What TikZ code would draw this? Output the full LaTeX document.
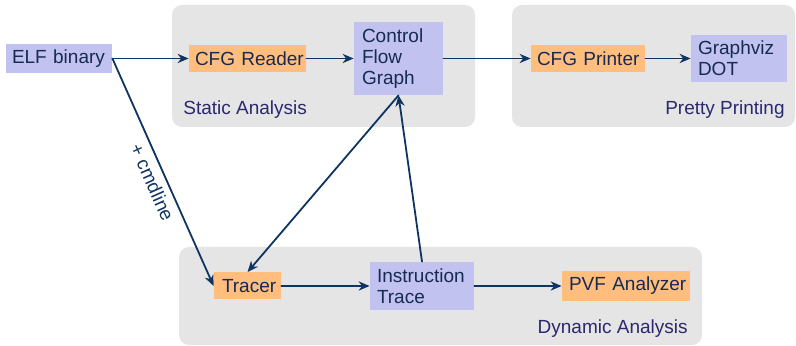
\documentclass[tikz,border=0pt]{standalone}
\usepackage{fontspec}
\setmainfont{Liberation Sans}
\usepackage{xcolor}
\usetikzlibrary{arrows.meta}
\definecolor{procorange}{RGB}{255,190,125}
\definecolor{datablue}{RGB}{194,194,240}
\definecolor{phasegray}{RGB}{229,229,229}
\definecolor{linenavy}{RGB}{16,52,98}
\definecolor{textnavy}{RGB}{22,42,82}
\definecolor{phasenavy}{RGB}{42,40,110}
\tikzset{
  box/.style={inner ysep=0pt,inner xsep=3pt,align=left,text=textnavy,font=\fontsize{9.5}{10.4}\selectfont},
  proc/.style={box,fill=procorange},
  data/.style={box,fill=datablue},
  phase/.style={fill=phasegray,rounded corners=5pt},
  phaselabel/.style={inner sep=0pt,text=phasenavy,font=\fontsize{9.5}{10.4}\selectfont},
  flow/.style={line width=0.9pt,color=linenavy,-{Stealth[length=5.5pt,width=4.6pt]}}
}
\begin{document}
\begin{tikzpicture}[line cap=round,line join=round,x=0.5pt,y=-0.5pt]
\useasboundingbox (0,0) rectangle (796,346);
% phases
\fill [phase] (172,5) rectangle (475,127);
\fill [phase] (512,5) rectangle (795,127);
\fill [phase] (179,247) rectangle (702,345);
\node [phaselabel,anchor=west] (staticlbl) at (183,110) {Static Analysis};
\node [phaselabel,anchor=east] (prettylbl) at (785,110) {Pretty Printing};
\node [phaselabel,anchor=east] (dynlbl) at (688,329) {Dynamic Analysis};
% boxes
\node [data,minimum width=53pt,minimum height=14.5pt,text width=47pt] (elf) at (59,58.5) {\mbox{ELF binary}};
\node [proc,minimum width=58.5pt,minimum height=13.5pt,text width=52.5pt] (reader) at (247.5,58.5) {\mbox{CFG Reader}};
\node [data,minimum width=44.5pt,minimum height=36.5pt,text width=36.5pt,inner xsep=4pt] (cfg) at (398.5,58.5) {Control\\Flow\\Graph};
\node [proc,minimum width=57pt,minimum height=13.5pt,text width=51pt] (printer) at (588,58.5) {\mbox{CFG Printer}};
\node [data,minimum width=48pt,minimum height=23.5pt,text width=41pt,inner xsep=3.5pt] (dot) at (739,58.5) {Graphviz\\DOT};
\node [proc,minimum width=33.5pt,minimum height=13.5pt,text width=25.5pt,inner xsep=4pt] (tracer) at (247.5,286) {Tracer};
\node [data,minimum width=52pt,minimum height=24pt,text width=45pt,inner xsep=3.5pt] (trace) at (422,286) {Instruction\\Trace};
\node [proc,minimum width=64pt,minimum height=15pt,text width=57pt,inner xsep=3.5pt] (pvf) at (626,286) {\mbox{PVF Analyzer}};
% connectors
\draw [flow] (elf.east) -- (reader.west);
\draw [flow] (reader.east) -- (cfg.west);
\draw [flow] (cfg.east) -- (printer.west);
\draw [flow] (printer.east) -- (dot.west);
\draw [flow] (elf.east) -- node [pos=0.52,below=2pt,sloped,inner sep=1pt,text=linenavy,font=\fontsize{9.5}{10.4}\selectfont] {+ cmdline} (tracer.west);
\draw [flow] (cfg.south) -- (tracer.north);
\draw [flow] (trace.north) -- (cfg.south);
\draw [flow] (tracer.east) -- (trace.west);
\draw [flow] (trace.east) -- (pvf.west);
\end{tikzpicture}
\end{document}
